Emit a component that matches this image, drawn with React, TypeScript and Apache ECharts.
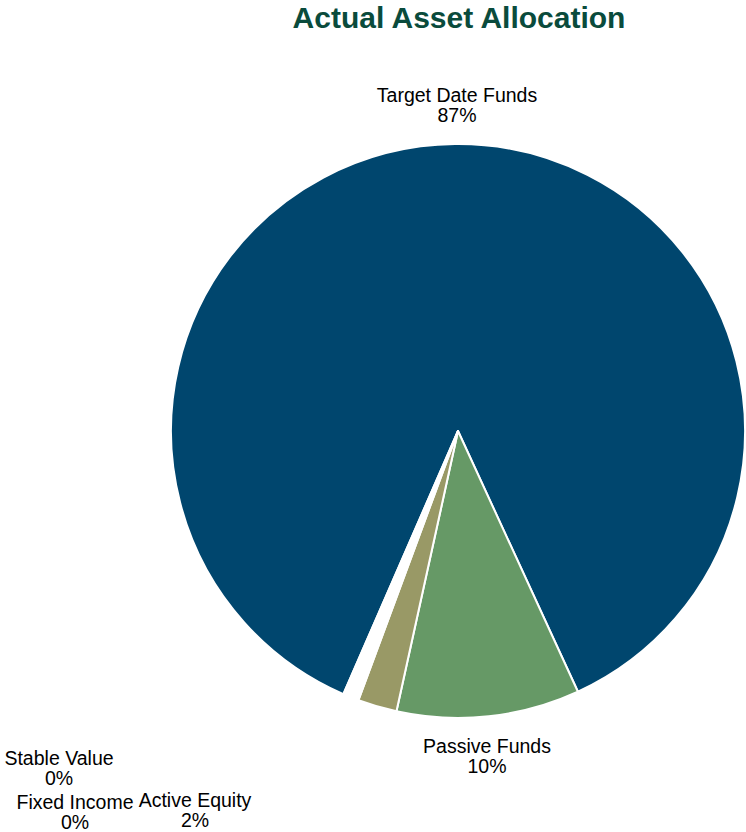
import React, { useEffect, useRef } from "react";
import * as echarts from "echarts";

const categories = ["Target Date Funds", "Passive Funds", "Active Equity", "Fixed Income", "Stable Value"];
const values = [86.6, 10.3, 2.2, 0.45, 0.45];
const colors = ["#00466E", "#669966", "#999966", "#FFFFFF", "#FFFFFF"];
// label anchor points (block centre) in pixels
const labelAnchors: [number, number][] = [
  [457, 104.5],
  [487, 755.5],
  [195, 810],
  [75, 812],
  [59, 768],
];

export default function App() {
  const ref = useRef<HTMLDivElement>(null);
  useEffect(() => {
    if (!ref.current) return;
    const chart = echarts.init(ref.current, undefined, { renderer: "svg" });
    const font = "'Liberation Sans', Arial, Helvetica, sans-serif";
    chart.setOption({
      animation: false,
      title: {
        text: "Actual Asset Allocation",
        left: 454,
        top: -3,
        textAlign: "center",
        textStyle: { fontFamily: font, fontSize: 30, fontWeight: "bold", color: "#0A4B3C" },
      },
      series: [
        {
          type: "pie",
          center: [458, 431],
          radius: 287,
          startAngle: 246.46,
          clockwise: true,
          percentPrecision: 2,
          avoidLabelOverlap: false,
          emphasis: { disabled: true },
          itemStyle: { borderColor: "#FFFFFF", borderWidth: 2 },
          label: {
            show: true,
            position: "outside",
            formatter: (p: any) => `${p.name}\n${Math.round(p.percent)}%`,
            fontFamily: font,
            fontSize: 19.5,
            lineHeight: 20,
            color: "#000000",
            align: "center",
          },
          labelLine: { show: false },
          labelLayout: (params: any) => {
            const a = labelAnchors[params.dataIndex];
            return { x: a[0], y: a[1], align: "center", verticalAlign: "middle" };
          },
          data: categories.map((name, i) => ({
            name,
            value: values[i],
            itemStyle: { color: colors[i] },
          })),
        },
      ],
    });
    return () => chart.dispose();
  }, []);
  return (
    <div
      ref={ref}
      style={{ position: "absolute", left: 0, top: 0, width: 746, height: 832, background: "#fff" }}
    />
  );
}
